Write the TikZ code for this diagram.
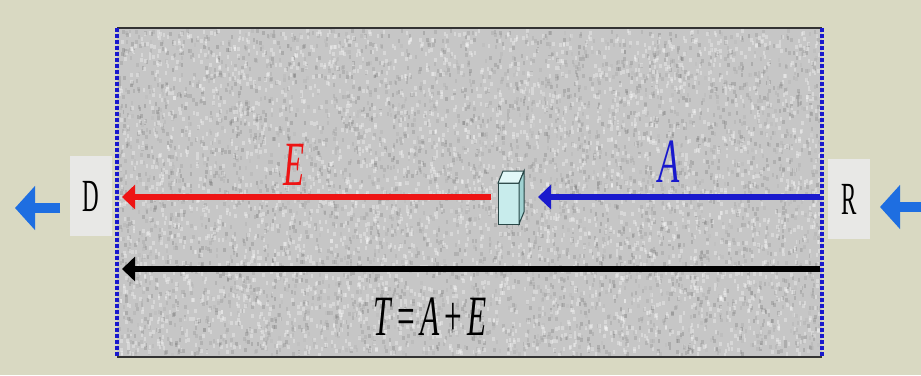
\documentclass[tikz,border=0pt]{standalone}
\usepackage{fontspec}
\setmainfont{Liberation Serif}
\usetikzlibrary{arrows.meta}
\definecolor{bgbeige}{RGB}{217,217,194}
\definecolor{panelgrey}{RGB}{198,198,198}
\definecolor{labelbox}{RGB}{232,232,230}
\definecolor{outblue}{RGB}{30,110,225}
\definecolor{arrblue}{RGB}{25,25,205}
\definecolor{arrred}{RGB}{238,20,20}
\definecolor{cubefront}{RGB}{200,236,236}
\definecolor{cubetop}{RGB}{226,248,248}
\definecolor{cubeside}{RGB}{160,210,210}
\definecolor{cubeedge}{RGB}{40,70,70}
\tikzset{
  endlabel/.style={fill=labelbox, minimum width=84pt, minimum height=80pt, inner sep=0pt,
    font=\fontsize{46}{46}\selectfont, xscale=0.5},
  bigarrow/.style={line width=6pt, -{Triangle[length=13pt,width=24pt]}},
  outarrow/.style={outblue, line width=10pt, -{Triangle[length=20pt,width=43pt]}},
  letterlabel/.style={inner sep=0pt, font=\fontsize{63}{63}\selectfont\itshape, xscale=0.55},
  edgedash/.style={arrblue, line width=3.5pt, dash pattern=on 4pt off 2pt}
}
\begin{document}
\begin{tikzpicture}[x=1pt,y=-1pt]
\useasboundingbox (0,0) rectangle (921,375);
\fill[bgbeige] (0,0) rectangle (921,375);
% grey panel with noise
\fill[panelgrey] (117,28) rectangle (822,357);
\pgfmathsetseed{42}
\foreach \i in {1,...,4500}{
  \pgfmathsetmacro{\px}{118+701*rnd}
  \pgfmathsetmacro{\py}{29+324*rnd}
  \pgfmathtruncatemacro{\pg}{30+40*rnd}
  \fill[black!\pg!white, opacity=0.22] (\px,\py) rectangle ++(2.5,4);
}
\foreach \i in {1,...,3500}{
  \pgfmathsetmacro{\px}{118+701*rnd}
  \pgfmathsetmacro{\py}{29+324*rnd}
  \fill[white, opacity=0.3] (\px,\py) rectangle ++(2.5,4);
}
\draw[black!80, line width=1.5pt] (117,28) -- (822,28);
\draw[black!80, line width=1.5pt] (117,357) -- (822,357);
\draw[edgedash] (117,28) -- (117,357);
\draw[edgedash] (822,28) -- (822,357);
% end labels
\node[endlabel] (D) at (91,196) {D};
\node[endlabel] (R) at (849,199) {R};
% outside arrows
\coordinate (Lout1) at (60,208);
\coordinate (Lout2) at (15,208);
\coordinate (Rout1) at (921,207);
\coordinate (Rout2) at (880,207);
\draw[outarrow] (Lout1) -- (Lout2);
\draw[outarrow] (Rout1) -- (Rout2);
% cube
\fill[cubefront, draw=cubeedge, line width=1pt] (498,183) rectangle (519,224);
\fill[cubetop, draw=cubeedge, line width=1pt] (498,183) -- (503,171) -- (524,171) -- (519,183) -- cycle;
\fill[cubeside, draw=cubeedge, line width=1pt] (519,183) -- (524,171) -- (524,212) -- (519,224) -- cycle;
\coordinate (cubeL) at (491,197);
\coordinate (cubeR) at (538,197);
% arrows
\coordinate (tipE) at (122,197);
\coordinate (startA) at (820,197);
\coordinate (startT) at (820,269);
\coordinate (tipT) at (122,269);
\draw[bigarrow, arrred] (cubeL) -- (tipE);
\draw[bigarrow, arrblue] (startA) -- (cubeR);
\draw[bigarrow, black] (startT) -- (tipT);
% labels
\node[letterlabel, arrred, anchor=base] (E) at (294,185) {E};
\node[letterlabel, arrblue, anchor=base] (A) at (669,182) {A};
\node[inner sep=0pt, anchor=base, font=\fontsize{57}{57}\selectfont, xscale=0.55] (T) at (430,335) {\textit{T}\,=\,\textit{A}\,+\,\textit{E}};
\end{tikzpicture}
\end{document}
